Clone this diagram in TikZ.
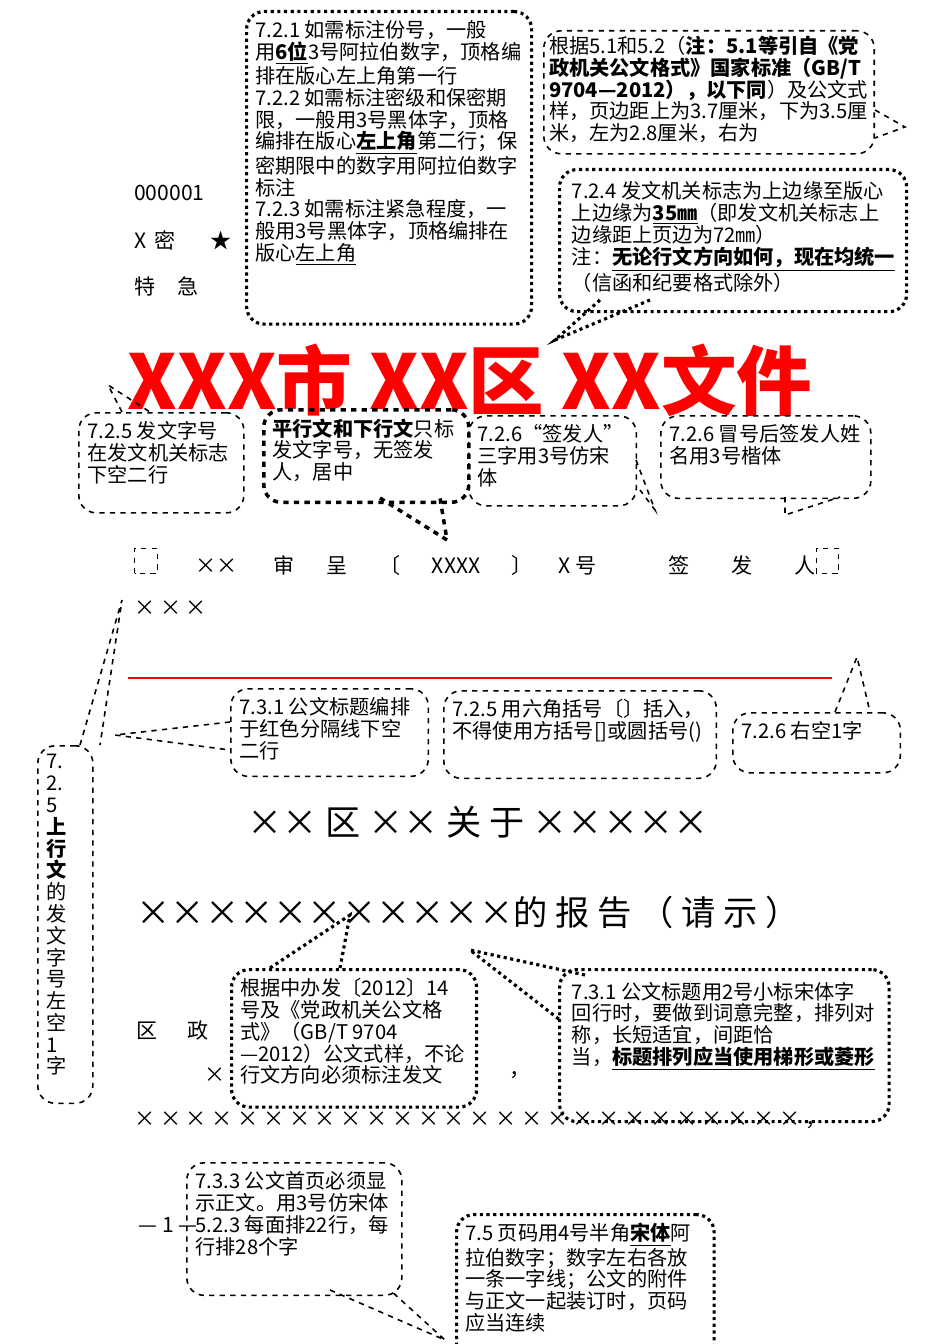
\documentclass[tikz,border=0pt]{standalone}
\usepackage{fontspec}
\setmainfont{Noto Sans CJK SC}
\XeTeXlinebreaklocale "zh"
\XeTeXlinebreakskip=0pt plus 1pt
\newcommand{\notebody}[3]{\parbox[c][#1][t]{#2}{\raggedright #3}}
\tikzset{
  note/.style={draw,rounded corners=0.35cm,anchor=north west,align=left,inner sep=5pt,font=\fontsize{11.5}{12.4}\selectfont},
  dashnote/.style={note,dashed,line width=0.9pt},
  dotnote/.style={note,dotted,line width=1.8pt},
  boldnote/.style={note,dashed,line width=2pt},
  plaintext/.style={font=\fontsize{12}{14}\selectfont}
}
\begin{document}
\begin{tikzpicture}[x=0.02cm,y=-0.02cm]
\useasboundingbox (0,0) rectangle (950,1344);
% header marks
\node[plaintext,anchor=west] (num) at (128,193) {000001};
\node[plaintext,anchor=west] (secret) at (128,240) {X\, 密 \hspace{1.2em} ★};
\node[plaintext,anchor=west] (urgent) at (128,286) {特 \hspace{0.6em} 急};
% 7.2.1
\node[dotnote] (n721) at (245,10) {\notebody{5.9cm}{5.35cm}{7.2.1 如需标注份号，一般用\underline{\textbf{6位}}3号阿拉伯数字，顶格编排在版心左上角第一行\\7.2.2 如需标注密级和保密期限，一般用3号黑体字，顶格编排在版心\underline{\textbf{左上角}}第二行；保密期限中的数字用阿拉伯数字标注\\7.2.3 如需标注紧急程度，一般用3号黑体字，顶格编排在版心\underline{左上角}}};
% margins
\node[dashnote,inner sep=3pt] (nmargin) at (543,30) {\notebody{2.25cm}{6.4cm}{根据5.1和5.2（\textbf{注：5.1等引自《党政机关公文格式》国家标准（GB/T 9704—2012），以下同}）及公文式样，页边距上为3.7厘米，下为3.5厘米，左为2.8厘米，右为}};
\coordinate (tipmargin) at (905,127);
\draw[dashed,line width=0.9pt] (875,110) -- (tipmargin) -- (875,138);
% 7.2.4
\node[dotnote,inner sep=7pt] (n724) at (558,168) {\notebody{2.35cm}{6.45cm}{7.2.4 发文机关标志为上边缘至版心上边缘为\underline{\textbf{35㎜}}（即发文机关标志上边缘距上页边为72㎜）\\注：\underline{\textbf{无论行文方向如何，现在均统一}}\\（信函和纪要格式除外）}};
\coordinate (tip724) at (555,340);
\draw[dotted,line width=1.8pt] (600,300) -- (tip724) -- (650,300);
% title
\node[text=red,font=\fontsize{43}{45}\selectfont\bfseries] (head) at (470,380) {XXX市 XX区 XX文件};
% row of callouts
\node[dashnote] (n725) at (78,412) {\notebody{1.65cm}{2.95cm}{7.2.5 发文字号在发文机关标志下空二行}};
\coordinate (tip725) at (108,385);
\draw[dashed,line width=0.9pt] (122,412) -- (tip725) -- (150,412);
\node[boldnote] (nflat) at (262,408) {\notebody{1.5cm}{3.75cm}{\textbf{平行文和下行文}只标发文字号，无签发人，居中}};
\coordinate (tipflat) at (447,540);
\draw[dashed,line width=2pt] (380,498) -- (tipflat) -- (440,498);
\node[dashnote] (n726a) at (468,415) {\notebody{1.45cm}{3.0cm}{7.2.6“签发人”三字用3号仿宋体}};
\coordinate (tip726a) at (655,510);
\draw[dashed,line width=0.9pt] (636,460) -- (tip726a) -- (640,490);
\node[dashnote] (n726b) at (660,415) {\notebody{1.3cm}{3.85cm}{7.2.6 冒号后签发人姓名用3号楷体}};
\coordinate (tip726b) at (785,515);
\draw[dashed,line width=0.9pt] (785,497) -- (tip726b) -- (840,497);
% issue number line
\node[plaintext,anchor=west] (docno) at (128,562) {\tikz[x=1cm,y=1cm]\draw[dashed](0,0) rectangle (0.45,0.5);\hspace{1.8em}×× \hspace{1.5em}审\hspace{1.5em}呈\hspace{1.5em}〔\hspace{1.5em}XXXX\hspace{1.5em}〕\hspace{1.2em}X 号 \hspace{3.2em}签\hspace{2em}发\hspace{2em}人\tikz[x=1cm,y=1cm]\draw[dashed](0,0) rectangle (0.45,0.5);};
\node[plaintext,anchor=west] (xxx) at (128,608) {× × ×};
\draw[red,line width=1.5pt] (128,678) coordinate (redl) -- (832,678) coordinate (redr);
% second row of callouts
\node[dashnote] (n731a) at (230,688) {\notebody{1.4cm}{3.6cm}{7.3.1 公文标题编排于红色分隔线下空二行}};
\coordinate (tip731a) at (115,735);
\draw[dashed,line width=0.9pt] (230,722) -- (tip731a) -- (230,750);
\node[dashnote] (n725b) at (443,690) {\notebody{1.4cm}{5.1cm}{7.2.5 用六角括号〔〕括入，不得使用方括号[]或圆括号()}};
\node[dashnote] (nright) at (732,712) {\notebody{0.85cm}{3.0cm}{7.2.6 右空1字}};
\coordinate (tipright) at (857,657);
\draw[dashed,line width=0.9pt] (835,712) -- (tipright) -- (870,712);
\node[dashnote] (nup) at (37,745) {\notebody{6.8cm}{0.75cm}{7.\\2.\\5\\\textbf{上}\\\textbf{行}\\\textbf{文}\\的\\发\\文\\字\\号\\左\\空\\1\\字}};
\coordinate (tipup) at (122,600);
\draw[dashed,line width=0.9pt] (80,745) -- (tipup) -- (100,745);
% document title
\node[font=\fontsize{20}{22}\selectfont] (t1) at (478,822) {×× 区 ×× 关 于 ×××××};
\node[font=\fontsize{19.5}{22}\selectfont] (t2) at (468,912) {×××××××××××的 报 告 （ 请 示 ）};
% lower callouts
\node[dotnote] (nzhong) at (230,968) {\notebody{2.4cm}{4.55cm}{根据中办发〔2012〕14号及《党政机关公文格式》（GB/T 9704—2012）公文式样，不论行文方向必须标注发文}};
\coordinate (tipzhong) at (350,915);
\draw[dotted,line width=1.8pt] (270,968) -- (tipzhong) -- (340,968);
\node[dotnote,inner sep=7pt] (n731b) at (558,968) {\notebody{2.55cm}{6.1cm}{7.3.1 公文标题用2号小标宋体字\\回行时，要做到词意完整，排列对称，长短适宜，间距恰当，\underline{\textbf{标题排列应当使用梯形或菱形}}}};
\coordinate (tip731b) at (470,950);
\draw[dotted,line width=1.8pt] (585,975) -- (tip731b) -- (560,1020);
\node[plaintext,anchor=west] (qz) at (130,1030) {区 \hspace{1em} 政};
\node[plaintext] (xsmall) at (215,1075) {×};
\node[plaintext] (comma1) at (520,1075) {，};
\node[plaintext,anchor=west] (xrow) at (128,1120) {× × × × × × × × × × × × × × × × × × × × × × × × × × ，};
\node[plaintext] (page) at (168,1225) {— 1 —};
\node[dashnote] (n733) at (186,1162) {\notebody{2.3cm}{3.95cm}{7.3.3 公文首页必须显示正文。用3号仿宋体\\5.2.3 每面排22行，每行排28个字}};
\coordinate (tip733) at (445,1340);
\draw[dashed,line width=0.9pt] (330,1290) -- (tip733) -- (390,1290);
\node[dotnote] (n75) at (455,1213) {\notebody{2.9cm}{4.8cm}{7.5 页码用4号半角\underline{\textbf{宋体}}阿拉伯数字；数字左右各放一条一字线；公文的附件与正文一起装订时，页码应当连续}};
\end{tikzpicture}
\end{document}
